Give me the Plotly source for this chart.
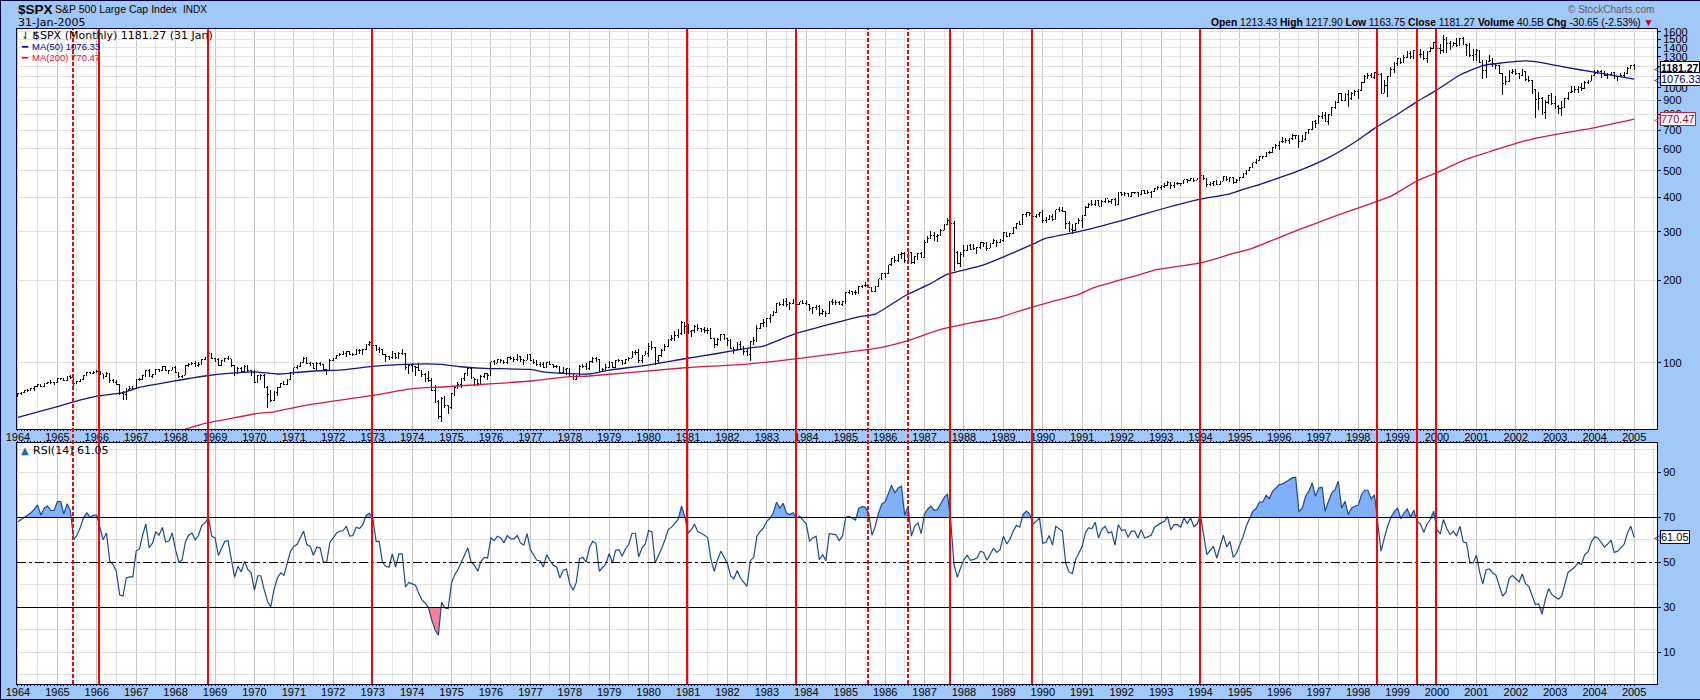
import math

import pandas as pd
import plotly.graph_objects as go

# monthly closes, one row per year, 1964 to Jan 2005
closes = [
    77.04, 77.80, 78.98, 79.46, 80.37, 81.69, 83.18, 81.83, 84.18, 84.86, 84.42, 84.75,
    87.56, 87.43, 86.16, 89.11, 88.42, 84.12, 85.25, 87.17, 89.96, 92.42, 91.61, 92.43,
    92.88, 91.22, 89.23, 91.06, 86.13, 84.74, 83.60, 77.10, 76.56, 80.20, 80.45, 80.33,
    86.61, 86.78, 90.20, 94.01, 89.08, 90.64, 94.75, 93.64, 96.71, 93.90, 94.00, 96.47,
    92.24, 89.36, 90.20, 97.59, 98.68, 99.58, 97.74, 98.86, 102.67, 103.41, 108.37, 103.86,
    103.01, 98.13, 101.51, 103.69, 103.46, 97.71, 91.83, 95.51, 93.12, 97.24, 93.81, 92.06,
    85.02, 89.50, 89.63, 81.52, 76.55, 72.72, 78.05, 81.52, 84.21, 83.25, 87.20, 92.15,
    95.88, 96.75, 100.31, 103.95, 99.63, 99.70, 95.58, 99.03, 98.34, 94.23, 93.99, 102.09,
    103.94, 106.57, 107.20, 107.67, 109.53, 107.14, 107.39, 111.09, 110.55, 111.58, 116.67, 118.05,
    116.03, 111.68, 111.52, 106.97, 104.95, 104.26, 108.22, 104.25, 108.43, 108.29, 95.96, 97.55,
    96.57, 96.22, 93.98, 90.31, 87.28, 86.00, 79.31, 72.15, 63.54, 73.90, 69.97, 68.56,
    76.98, 81.59, 83.36, 87.30, 91.15, 95.19, 88.75, 86.88, 83.87, 89.04, 91.24, 90.19,
    100.86, 99.71, 102.77, 101.64, 100.18, 104.28, 103.44, 102.91, 105.24, 102.90, 102.10, 107.46,
    102.03, 99.82, 98.42, 98.44, 96.12, 100.48, 98.85, 96.77, 96.53, 92.34, 94.83, 95.10,
    89.25, 87.04, 89.21, 96.83, 97.24, 95.53, 100.68, 103.29, 102.54, 93.15, 94.70, 96.11,
    99.93, 96.28, 101.59, 101.76, 99.08, 102.91, 103.81, 109.32, 109.32, 101.82, 106.16, 107.94,
    114.16, 113.66, 102.09, 106.29, 111.24, 114.24, 121.67, 122.38, 125.46, 127.47, 140.52, 135.76,
    129.55, 131.27, 136.00, 132.81, 132.59, 131.21, 130.92, 122.79, 116.18, 121.89, 126.35, 122.55,
    120.40, 113.11, 111.96, 116.44, 111.88, 109.61, 107.09, 119.51, 120.42, 133.71, 138.54, 140.64,
    145.30, 148.06, 152.96, 164.42, 162.39, 167.64, 162.56, 164.40, 166.07, 163.55, 166.40, 164.93,
    163.41, 157.06, 159.18, 160.05, 150.55, 153.18, 150.66, 166.68, 166.10, 166.09, 163.58, 167.24,
    179.63, 181.18, 180.66, 179.83, 189.55, 191.85, 190.92, 188.63, 182.08, 189.82, 202.17, 211.28,
    211.78, 226.92, 238.90, 235.52, 247.35, 250.84, 236.12, 252.93, 231.32, 243.98, 249.22, 242.17,
    274.08, 284.20, 291.70, 288.36, 290.10, 304.00, 318.66, 329.80, 321.83, 251.79, 230.30, 247.08,
    257.07, 267.82, 258.89, 261.33, 262.16, 273.50, 272.02, 261.52, 271.91, 278.97, 273.70, 277.72,
    297.47, 288.86, 294.87, 309.64, 320.52, 317.98, 346.08, 351.45, 349.15, 340.36, 345.99, 353.40,
    329.08, 331.89, 339.94, 330.80, 361.23, 358.02, 356.15, 322.56, 306.05, 304.00, 322.22, 330.22,
    343.93, 367.07, 375.22, 375.34, 389.83, 371.16, 387.81, 395.43, 387.86, 392.46, 375.22, 417.09,
    408.79, 412.70, 403.69, 414.95, 415.35, 408.14, 424.21, 414.03, 417.80, 418.68, 431.35, 435.71,
    438.78, 443.38, 451.67, 440.19, 450.19, 450.53, 448.13, 463.56, 458.93, 467.83, 461.79, 466.45,
    481.61, 467.14, 445.77, 450.91, 456.50, 444.27, 458.26, 475.49, 462.69, 472.35, 453.69, 459.27,
    470.42, 487.39, 500.71, 514.71, 533.40, 544.75, 562.06, 561.88, 584.41, 581.50, 605.37, 615.93,
    636.02, 640.43, 645.50, 654.17, 669.12, 670.63, 639.95, 651.99, 687.31, 705.27, 757.02, 740.74,
    786.16, 790.82, 757.12, 801.34, 848.28, 885.14, 954.31, 899.47, 947.28, 914.62, 955.40, 970.43,
    980.28, 1049.34, 1101.75, 1111.75, 1090.82, 1133.84, 1120.67, 957.28, 1017.01, 1098.67, 1163.63, 1229.23,
    1279.64, 1238.33, 1286.37, 1335.18, 1301.84, 1372.71, 1328.72, 1320.41, 1282.71, 1362.93, 1388.91, 1469.25,
    1394.46, 1366.42, 1498.58, 1452.43, 1420.60, 1454.60, 1430.83, 1517.68, 1436.51, 1429.40, 1314.95, 1320.28,
    1366.01, 1239.94, 1160.33, 1249.46, 1255.82, 1224.42, 1211.23, 1133.58, 1040.94, 1059.78, 1139.45, 1148.08,
    1130.20, 1106.73, 1147.39, 1076.92, 1067.14, 989.82, 911.62, 916.07, 815.28, 885.76, 936.31, 879.82,
    855.70, 841.15, 849.18, 916.92, 963.59, 974.50, 990.31, 1008.01, 995.97, 1050.71, 1058.20, 1111.92,
    1131.13, 1144.94, 1126.21, 1107.30, 1120.68, 1140.84, 1101.72, 1104.24, 1114.58, 1130.20, 1173.82, 1211.92,
    1181.27,
]
highs = [
    77.6, 78.2, 79.4, 80.0, 80.8, 82.0, 83.5, 83.4, 84.5, 85.2, 86.3, 85.2,
    88.0, 88.2, 87.9, 89.6, 90.3, 88.6, 85.9, 87.5, 90.2, 92.7, 92.7, 93.0,
    94.1, 93.3, 91.1, 92.4, 91.1, 87.4, 86.6, 84.0, 78.7, 81.0, 82.5, 82.6,
    87.0, 88.3, 90.6, 94.2, 95.0, 91.1, 95.1, 95.3, 97.6, 97.6, 94.5, 96.6,
    97.0, 92.6, 90.6, 98.0, 99.5, 100.7, 101.8, 100.7, 103.0, 105.0, 108.9, 108.9,
    104.0, 104.0, 101.8, 104.5, 106.2, 103.5, 98.1, 96.7, 96.5, 98.3, 98.3, 93.8,
    94.0, 90.0, 90.9, 90.9, 82.0, 79.8, 79.0, 81.9, 84.7, 85.9, 87.6, 92.2,
    96.0, 97.8, 100.6, 104.6, 104.6, 100.5, 100.0, 100.9, 100.9, 99.2, 94.7, 103.0,
    104.5, 106.9, 108.8, 110.4, 110.7, 110.7, 108.2, 112.3, 112.0, 112.5, 117.3, 119.8,
    120.2, 116.3, 114.0, 112.0, 107.6, 106.0, 110.0, 108.4, 109.0, 111.8, 108.3, 98.0,
    99.8, 97.0, 99.8, 94.0, 92.0, 93.0, 88.0, 82.8, 73.0, 74.9, 76.0, 70.0,
    77.8, 82.6, 84.9, 88.0, 92.0, 95.5, 96.5, 87.9, 86.6, 90.1, 92.0, 91.3,
    101.0, 102.0, 103.4, 103.6, 102.0, 105.3, 105.5, 105.0, 107.8, 105.5, 103.0, 107.8,
    107.5, 103.3, 102.5, 101.0, 100.4, 100.7, 101.6, 99.1, 98.1, 96.9, 96.8, 96.0,
    95.1, 90.9, 90.2, 97.8, 99.0, 99.7, 101.0, 105.0, 104.9, 103.5, 96.0, 98.6,
    101.8, 100.5, 102.3, 103.6, 102.3, 103.4, 104.7, 110.0, 110.9, 112.2, 107.0, 110.0,
    118.0, 120.2, 114.0, 107.0, 112.0, 117.0, 122.5, 126.0, 130.4, 133.0, 141.9, 141.0,
    138.1, 132.0, 137.6, 138.1, 134.0, 134.8, 133.9, 133.8, 123.0, 123.0, 127.3, 127.5,
    123.0, 122.0, 114.0, 119.3, 119.5, 114.6, 112.5, 120.0, 124.6, 137.0, 140.1, 143.7,
    146.0, 150.9, 153.7, 164.9, 167.0, 170.9, 172.7, 167.0, 170.4, 172.7, 167.0, 169.0,
    169.5, 164.0, 159.8, 162.0, 161.7, 156.6, 154.0, 167.5, 170.4, 169.0, 168.0, 168.0,
    180.3, 183.9, 183.0, 183.6, 190.8, 192.4, 197.0, 192.5, 189.0, 191.0, 202.2, 212.0,
    213.0, 226.9, 240.0, 244.0, 249.0, 252.0, 252.3, 254.0, 254.0, 245.0, 250.0, 254.0,
    280.0, 290.0, 301.0, 300.0, 294.0, 306.0, 321.0, 337.0, 329.0, 329.0, 255.0, 252.0,
    268.0, 269.0, 271.0, 270.0, 264.0, 275.0, 276.0, 274.0, 272.0, 283.0, 280.0, 281.0,
    298.0, 300.0, 297.0, 311.0, 323.0, 328.0, 347.0, 354.0, 352.0, 360.0, 347.0, 354.0,
    360.0, 338.0, 344.0, 347.0, 361.0, 368.0, 369.0, 357.0, 327.0, 320.0, 323.0, 335.0,
    345.0, 371.0, 383.0, 391.0, 392.0, 391.0, 392.0, 396.0, 392.0, 394.0, 398.0, 418.0,
    420.0, 418.0, 416.0, 417.0, 419.0, 417.0, 425.0, 425.0, 425.0, 420.0, 432.0, 438.0,
    443.0, 450.0, 457.0, 452.0, 455.0, 454.0, 451.0, 464.0, 465.0, 471.0, 469.0, 471.0,
    482.0, 483.0, 468.0, 454.0, 460.0, 463.0, 459.0, 477.0, 476.0, 476.0, 474.0, 466.0,
    474.0, 488.0, 503.0, 516.0, 534.0, 552.0, 565.0, 565.0, 586.0, 590.0, 608.0, 625.0,
    637.0, 664.0, 658.0, 660.0, 680.0, 674.0, 677.0, 672.0, 691.0, 711.0, 758.0, 762.0,
    795.0, 818.0, 815.0, 802.0, 851.0, 898.0, 957.0, 960.0, 960.0, 983.0, 964.0, 987.0,
    992.0, 1050.0, 1113.0, 1131.0, 1130.0, 1139.0, 1191.0, 1135.0, 1067.0, 1103.0, 1193.0, 1244.0,
    1286.0, 1282.0, 1316.0, 1363.0, 1368.0, 1372.0, 1420.0, 1382.0, 1362.0, 1367.0, 1406.0, 1473.0,
    1478.0, 1445.0, 1553.0, 1528.0, 1481.0, 1475.0, 1518.0, 1526.0, 1531.0, 1437.0, 1452.0, 1390.0,
    1384.0, 1377.0, 1268.0, 1269.0, 1316.0, 1287.0, 1234.0, 1214.0, 1134.0, 1110.0, 1163.0, 1173.0,
    1176.0, 1130.0, 1173.0, 1147.0, 1107.0, 1068.0, 994.0, 965.0, 925.0, 901.0, 941.0, 955.0,
    935.0, 864.0, 895.0, 920.0, 965.0, 1016.0, 1016.0, 1018.0, 1040.0, 1062.0, 1070.0, 1112.0,
    1158.0, 1159.0, 1164.0, 1150.0, 1131.0, 1147.0, 1141.0, 1109.0, 1132.0, 1142.0, 1188.0, 1217.0,
    1217.90,
]
lows = [
    75.0, 76.5, 77.6, 78.4, 79.0, 78.7, 81.3, 81.3, 81.5, 84.0, 84.0, 83.2,
    84.3, 86.7, 85.8, 85.9, 87.3, 81.6, 83.6, 84.8, 86.9, 89.9, 90.7, 90.9,
    91.9, 90.4, 87.3, 88.8, 84.6, 84.2, 83.1, 76.3, 73.2, 73.2, 79.2, 79.5,
    80.3, 85.6, 86.5, 88.8, 88.9, 87.7, 90.4, 92.7, 93.2, 93.0, 90.9, 93.9,
    91.5, 88.1, 87.7, 90.0, 96.6, 98.0, 96.8, 96.5, 98.9, 102.2, 102.7, 103.4,
    100.4, 97.2, 97.5, 100.7, 102.0, 96.2, 89.5, 91.3, 92.5, 92.4, 92.9, 89.2,
    84.8, 85.0, 86.2, 80.6, 68.6, 72.2, 72.5, 76.0, 81.0, 82.7, 82.7, 87.0,
    90.6, 95.0, 96.2, 100.0, 98.8, 97.3, 94.8, 93.5, 97.6, 93.5, 90.2, 93.8,
    101.7, 103.0, 106.0, 106.7, 104.7, 106.5, 105.9, 106.7, 108.0, 106.8, 111.6, 115.0,
    115.0, 110.5, 108.9, 106.4, 101.0, 102.0, 103.5, 103.0, 103.3, 106.9, 94.0, 90.8,
    92.6, 89.5, 93.0, 89.0, 85.0, 85.2, 78.6, 71.6, 62.3, 61.0, 68.7, 65.2,
    68.0, 76.0, 80.5, 81.0, 85.9, 89.6, 87.5, 82.2, 82.0, 82.9, 87.9, 86.8,
    90.5, 98.2, 99.6, 100.0, 98.6, 99.0, 102.5, 100.7, 101.8, 100.8, 98.5, 102.0,
    101.6, 99.0, 97.5, 96.9, 95.5, 95.5, 98.2, 95.7, 95.8, 91.5, 91.3, 90.0,
    88.5, 86.9, 86.4, 88.5, 95.9, 94.5, 94.4, 100.1, 100.7, 92.4, 92.2, 93.0,
    96.0, 95.4, 96.1, 100.4, 98.4, 98.8, 101.4, 103.8, 106.8, 100.0, 100.0, 106.7,
    105.2, 111.0, 98.2, 99.9, 105.0, 110.5, 113.9, 119.8, 120.0, 123.2, 125.9, 127.4,
    127.7, 124.5, 128.6, 131.0, 129.6, 128.3, 127.1, 122.3, 112.8, 114.7, 119.7, 121.0,
    114.7, 112.0, 107.3, 111.3, 111.5, 106.6, 106.0, 101.4, 116.4, 119.3, 132.9, 135.0,
    134.5, 139.0, 148.0, 152.0, 160.8, 161.0, 160.0, 156.0, 163.0, 162.0, 161.8, 163.0,
    162.7, 154.0, 151.0, 156.0, 148.5, 148.8, 147.3, 150.0, 162.6, 162.0, 162.0, 160.8,
    163.7, 178.6, 176.0, 177.0, 178.0, 187.3, 188.0, 187.0, 180.2, 181.3, 189.8, 200.0,
    203.5, 211.0, 224.4, 230.0, 233.0, 239.0, 230.0, 235.0, 228.0, 229.0, 236.0, 240.0,
    242.0, 273.0, 283.0, 278.0, 276.0, 289.0, 304.0, 317.0, 307.0, 216.0, 230.0, 224.0,
    243.0, 256.0, 258.0, 258.0, 249.0, 260.0, 263.0, 256.0, 261.0, 271.0, 264.0, 272.0,
    275.0, 286.0, 286.0, 293.0, 308.0, 316.0, 316.0, 340.0, 343.0, 328.0, 336.0, 340.0,
    322.0, 322.0, 330.0, 329.0, 330.0, 354.0, 353.0, 307.0, 300.0, 295.0, 303.0, 322.0,
    309.0, 343.0, 365.0, 371.0, 373.0, 371.0, 370.0, 380.0, 383.0, 378.0, 372.0, 374.0,
    404.0, 406.0, 401.0, 401.0, 411.0, 401.0, 407.0, 413.0, 413.0, 397.0, 418.0, 425.0,
    425.0, 431.0, 440.0, 429.0, 434.0, 445.0, 441.0, 447.0, 450.0, 457.0, 454.0, 462.0,
    464.0, 464.0, 436.0, 438.0, 441.0, 442.0, 444.0, 457.0, 460.0, 454.0, 448.0, 450.0,
    457.0, 469.0, 484.0, 500.0, 512.0, 530.0, 544.0, 553.0, 559.0, 576.0, 579.0, 602.0,
    597.0, 630.0, 628.0, 625.0, 645.0, 654.0, 605.0, 637.0, 646.0, 681.0, 702.0, 715.0,
    737.0, 770.0, 757.0, 733.0, 793.0, 838.0, 882.0, 898.0, 898.0, 855.0, 902.0, 932.0,
    912.0, 980.0, 1048.0, 1075.0, 1084.0, 1074.0, 1114.0, 957.0, 957.0, 924.0, 1094.0, 1131.0,
    1206.0, 1224.0, 1230.0, 1282.0, 1278.0, 1277.0, 1327.0, 1281.0, 1268.0, 1233.0, 1348.0, 1387.0,
    1361.0, 1325.0, 1346.0, 1339.0, 1373.0, 1420.0, 1408.0, 1430.0, 1435.0, 1305.0, 1294.0, 1255.0,
    1255.0, 1229.0, 1081.0, 1091.0, 1240.0, 1191.0, 1168.0, 1127.0, 944.0, 1026.0, 1054.0, 1124.0,
    1117.0, 1074.0, 1106.0, 1063.0, 1048.0, 952.0, 775.0, 833.0, 800.0, 768.0, 872.0, 869.0,
    841.0, 806.0, 789.0, 848.0, 903.0, 960.0, 962.0, 960.0, 972.0, 996.0, 1035.0, 1061.0,
    1108.0, 1125.0, 1087.0, 1107.0, 1076.0, 1113.0, 1078.0, 1060.0, 1099.0, 1090.0, 1127.0, 1174.0,
    1163.75,
]
rsi = [
    68, 69, 70, 71, 72, 73.5, 75.5, 71, 74, 75, 73, 73,
    77, 77, 71.5, 76, 73, 60, 62, 65.5, 70, 72, 70, 71,
    71, 65, 60, 63, 50.5, 49, 46, 35.5, 35, 43, 43.5, 43.5,
    55, 56, 62, 67, 56.5, 58.5, 63.5, 62, 65.5, 59, 59.5, 63,
    55.5, 50, 51, 59, 62, 63, 60, 62, 66.5, 67.5, 70, 61.6,
    60.8, 53, 56.4, 59.3, 59.6, 50.4, 43.3, 48.2, 45.7, 50.4, 46.7, 45.3,
    37.6, 44, 44, 37.8, 32.7, 30.2, 37.8, 43, 45.3, 44.2, 49.7, 54.9,
    57, 58, 60.8, 63.8, 57.9, 57.1, 53.1, 56.7, 56.4, 50.1, 50.1, 58.9,
    60.8, 63, 63.8, 64, 66, 61.6, 61.9, 65.6, 65, 66.7, 70.9, 71.8,
    69.7, 59.3, 59.3, 50.1, 48.2, 47.8, 53.7, 47.8, 53.7, 53.7, 39, 41,
    40.4, 39.8, 36.4, 33.4, 31.9, 30, 24.5, 20, 17.6, 32.2, 29.7, 29.4,
    40.8, 44.5, 46.7, 50.1, 53.4, 56.4, 50.1, 48.7, 46, 50.4, 52.2, 51.9,
    60.8, 59.6, 61.6, 60.8, 58.6, 61.9, 60.5, 60.4, 61.9, 58.6, 57.6, 62.7,
    55.6, 53.1, 50.9, 50.7, 47.9, 53.4, 50.7, 48.7, 47.9, 43, 46.4, 47,
    40.4, 37.6, 40.8, 51.6, 52.2, 50.1, 56.4, 59.3, 58.4, 46, 47.5, 49.3,
    53.9, 49.7, 55.3, 55.6, 52.7, 56, 57.9, 62.9, 62.9, 52.4, 56.4, 58.1,
    64.1, 63.5, 49.7, 52.7, 56.1, 60, 64.5, 65.6, 67.5, 69, 74.9, 70.4,
    63, 64.5, 67, 63.5, 63, 62, 61.1, 51.2, 46, 51.2, 54.9, 52.2,
    49.3, 43.8, 42.6, 46.3, 43, 41.1, 39.3, 50.7, 52.2, 61.6, 63.8, 65.3,
    68.2, 69.7, 71.9, 76.7, 74.1, 76.2, 71.9, 71.2, 72, 69.7, 70.4, 68.7,
    67, 59.3, 60.8, 61.6, 51.2, 53.4, 50.7, 62.7, 62.6, 62.3, 59.6, 61.6,
    70, 70.4, 69.7, 68.8, 73.9, 74.7, 74.4, 71.9, 62, 66, 71.9, 75.9,
    76.8, 80.8, 84.2, 80.8, 83, 83.8, 70.9, 74.9, 61.6, 66, 67.5, 62.7,
    71.5, 73.7, 74.9, 73.1, 73.4, 76.1, 78.6, 80.4, 68, 49, 43.3, 47.5,
    51.2, 53.1, 50.9, 51.3, 51.9, 54.9, 54.4, 50.9, 53.4, 56.2, 54.4, 55.6,
    61.6, 58.1, 60.1, 63.8, 66.4, 65.6, 71.2, 72.7, 71.5, 67, 68.2, 69.7,
    58.4, 59, 61.9, 57.6, 66, 65, 63.8, 49.7, 45.7, 45, 51.2, 54.1,
    57.1, 63.3, 65.3, 65, 67.8, 60.8, 64.5, 66, 63, 63.5, 57.6, 66.7,
    64.1, 64.5, 61.1, 63.8, 63.8, 60.8, 64.5, 60.8, 61.6, 62, 65.6, 66.7,
    67.5, 68.2, 70.3, 64.4, 66.7, 66.7, 65.6, 69.7, 67.2, 69.7, 65.9, 67,
    70.9, 61.6, 53.4, 55.3, 57.1, 51.9, 56.7, 62, 56.8, 59.3, 52.2, 54.1,
    57.9, 61.6, 66, 69.7, 72.7, 73.9, 76.7, 76.8, 79.8, 78.3, 81.6, 83,
    84.5, 84.8, 85.7, 86.3, 87.5, 87.8, 72.4, 74.1, 79.3, 81.6, 85.3, 79.3,
    83, 83.3, 72.7, 77.1, 80.8, 82.3, 86, 74.1, 77.1, 71.2, 74.1, 74.9,
    75.3, 80, 82, 82, 78.1, 80, 68.2, 54.9, 60.8, 66, 70.1, 72.4,
    74.1, 69.3, 71.9, 73.7, 70.1, 73.1, 68.2, 67, 63.3, 67, 69, 72.7,
    64.5, 62.6, 69, 65, 62.3, 63.8, 61.6, 66, 59, 58.6, 49.7, 49.7,
    53.1, 45.3, 40.4, 46.7, 47, 45.3, 44.2, 39.3, 34.9, 36.7, 43, 44.1,
    42.6, 41.3, 44.8, 40.5, 39.3, 34.9, 31.2, 31.5, 27, 33.4, 38.3, 35.6,
    34.6, 33.6, 34.9, 40.8, 45.6, 46.7, 47.9, 49.7, 49, 53.4, 54.6, 58.9,
    61.3, 60.8, 58.9, 56.7, 58.1, 59.8, 54.4, 54.9, 56.4, 58.1, 63, 66,
    61.05,
]

ma50_dates = [
    "1964-01", "1965-01", "1965-06", "1966-01", "1966-09", "1967-02", "1968-01", "1968-10",
    "1969-05", "1970-01", "1970-08", "1971-01", "1971-08", "1972-03", "1973-01", "1973-11",
    "1974-10", "1975-04", "1975-11", "1977-01", "1977-05", "1977-11", "1978-07", "1979-01",
    "1980-01", "1980-12", "1981-09", "1982-07", "1982-12", "1983-06", "1983-11", "1985-05",
    "1985-10", "1986-07", "1987-03", "1987-08", "1988-06", "1988-12", "1989-10", "1990-02",
    "1990-12", "1992-01", "1993-02", "1994-01", "1994-10", "1995-04", "1995-06", "1996-07",
    "1997-04", "1998-01", "1998-06", "1999-01", "1999-07", "2000-01", "2000-08", "2001-03",
    "2001-08", "2002-04", "2002-10", "2003-04", "2003-12", "2004-07", "2005-01",
]
ma50_values = [
    63.3, 69.2, 72.1, 75.6, 77.8, 81.4, 86, 89.5,
    91.5, 92.7, 91, 92, 93.5, 94, 97, 98.7,
    98.7, 96.7, 95.4, 94.6, 92.7, 91.5, 91, 94,
    98.1, 103.4, 107.6, 112.8, 115, 122.7, 129, 147,
    150.4, 175, 194.5, 210, 225, 240, 270, 284,
    300, 329, 365, 394, 412, 435, 441, 500,
    558, 647, 713, 802, 892, 984, 1115, 1206,
    1230, 1254, 1230, 1190, 1146, 1109, 1076.33,
]
ma200_dates = [
    "1968-04", "1968-10", "1969-06", "1970-02", "1970-07", "1971-05", "1972-12", "1974-01",
    "1974-10", "1976-03", "1977-02", "1977-12", "1978-07", "1980-12", "1982-07", "1983-11",
    "1985-05", "1985-12", "1986-07", "1987-06", "1988-04", "1988-12", "1989-06", "1990-03",
    "1990-12", "1991-04", "1992-06", "1992-11", "1994-01", "1994-11", "1995-04", "1996-07",
    "1997-07", "1998-11", "1999-07", "2000-01", "2000-10", "2001-05", "2002-02", "2002-06",
    "2003-03", "2003-12", "2005-01",
]
ma200_values = [
    57.4, 60.2, 62.8, 65.4, 66.3, 70.1, 75.7, 80.5,
    81.6, 84.1, 86, 88.9, 89.5, 95.9, 98.9, 103.8,
    110.6, 113.8, 119.3, 132.3, 140.3, 146.3, 154.6, 166,
    177.4, 186.6, 208.6, 217.5, 231, 250, 259, 305,
    345, 404, 459, 492, 551, 586, 634, 652,
    684, 713, 770.47,
]

# hand drawn red markers on the original
solid_marks = [
    "1966-01-21", "1968-10-27", "1972-12-25", "1980-12-22", "1983-09-27", "1987-08-22",
    "1989-09-22", "1993-12-25", "1998-06-22", "1999-06-28", "1999-12-22",
]
dashed_marks = ["1965-05-24", "1985-07-25", "1986-07-28"]

price_ticks = [100, 200, 300, 400, 500, 600, 700, 800, 900, 1000, 1100, 1200, 1300, 1400, 1500, 1600]
hidden_price_labels = [1100, 1200]  # sit under the value boxes in the original
rsi_ticks = [10, 30, 50, 70, 90]
rsi_minor = [0, 20, 40, 60, 80, 100]

NAVY = "#00003A"
BAND = "#A2C8F8"
FONT = "Liberation Sans"
WEB = "DejaVu Sans"
W, H = 1700, 700


def clip_fill(when, values, level, above):
    # series clipped at a level, with the crossings added so the shade meets the line
    xs, ys = [], []
    stamps = [t.value for t in when]
    for i, v in enumerate(values):
        if i and (values[i - 1] - level) * (v - level) < 0:
            frac = (level - values[i - 1]) / (v - values[i - 1])
            xs.append(pd.Timestamp(stamps[i - 1] + frac * (stamps[i] - stamps[i - 1])))
            ys.append(level)
        xs.append(when[i])
        ys.append(max(v, level) if above else min(v, level))
    return xs, ys


dates = pd.date_range("1964-01-01", periods=len(closes), freq="MS")
opens = [75.43] + closes[:-1]
x_range = ["1963-12-19", "2005-08-01"]
years = [d for d in dates if d.month == 1]
julys = [d for d in dates if d.month == 7] + [pd.Timestamp("2005-07-01")]

fig = go.Figure()
fig.add_trace(go.Ohlc(
    x=dates, open=opens, high=highs, low=lows, close=closes, tickwidth=0.4,
    increasing_line=dict(color="black", width=1),
    decreasing_line=dict(color="black", width=1),
    xaxis="x", yaxis="y", hoverinfo="skip",
))
fig.add_trace(go.Scatter(x=ma50_dates, y=ma50_values, mode="lines",
                         line=dict(color="#14148C", width=1.3, shape="spline", smoothing=0.5),
                         xaxis="x", yaxis="y", hoverinfo="skip"))
fig.add_trace(go.Scatter(x=ma200_dates, y=ma200_values, mode="lines",
                         line=dict(color="#D81840", width=1.3, shape="spline", smoothing=0.5),
                         xaxis="x", yaxis="y", hoverinfo="skip"))

# rsi shading above 70 and below 30
for level, above, shade in [(70, True, "#80B0F8"), (30, False, "#F8809A")]:
    xs, ys = clip_fill(dates, rsi, level, above)
    fig.add_trace(go.Scatter(x=xs, y=[level] * len(xs), mode="lines", line=dict(width=0),
                             xaxis="x2", yaxis="y2", hoverinfo="skip"))
    fig.add_trace(go.Scatter(x=xs, y=ys, mode="none", fill="tonexty", fillcolor=shade,
                             xaxis="x2", yaxis="y2", hoverinfo="skip"))
fig.add_trace(go.Scatter(x=dates, y=rsi, mode="lines", line=dict(color="#1E4A8C", width=1.2),
                         xaxis="x2", yaxis="y2", hoverinfo="skip"))

# carriers for the overlaid month tick axes
fig.add_trace(go.Scatter(x=dates, y=closes, mode="none", xaxis="x3", yaxis="y", hoverinfo="skip"))
fig.add_trace(go.Scatter(x=dates, y=rsi, mode="none", xaxis="x4", yaxis="y2", hoverinfo="skip"))

x_dom = [16.5 / W, 1657 / W]
x_common = dict(
    type="date", range=x_range, domain=x_dom, tickmode="array", tickvals=years, automargin=False,
    ticktext=[str(d.year) for d in years], ticks="", showline=True, linecolor=NAVY, linewidth=1,
    mirror=True, showgrid=True, gridcolor="#C6C6C6", gridwidth=1, zeroline=False,
    tickfont=dict(family=FONT, size=11, color="black"), tickangle=0, ticklabelstandoff=-2,
    minor=dict(tickmode="array", tickvals=julys, showgrid=True, gridcolor="#E6E6E6", gridwidth=1, ticks=""),
    rangeslider=dict(visible=False),
)
month_axis = dict(type="date", range=x_range, domain=x_dom, tickmode="array", tickvals=list(dates),
                  automargin=False, showticklabels=False, ticks="outside", ticklen=1, tickcolor=NAVY,
                  tickwidth=1, showgrid=False, zeroline=False)

y_common = dict(side="right", showline=True, linecolor=NAVY, linewidth=1, mirror=True, zeroline=False,
                automargin=False, ticks="outside", ticklen=3, tickcolor=NAVY, gridwidth=1, gridcolor="#E2E2E2",
                tickfont=dict(family=FONT, size=11, color="black"), tickmode="array")

shapes = []
for level, dash in [(70, "solid"), (30, "solid"), (50, "dashdot")]:
    shapes.append(dict(type="line", xref="paper", x0=x_dom[0], x1=x_dom[1], yref="y2", y0=level, y1=level,
                       line=dict(color="black", width=1, dash=dash)))
plot_top, plot_bottom = 1 - 28.5 / H, 1 - 684 / H
for mark in solid_marks:
    shapes.append(dict(type="line", x0=mark, x1=mark, yref="paper", y0=plot_bottom, y1=plot_top,
                       line=dict(color="#FF0000", width=2)))
for mark in dashed_marks:
    shapes.append(dict(type="line", x0=mark, x1=mark, yref="paper", y0=plot_bottom, y1=plot_top,
                       line=dict(color="#FF0000", width=2, dash="4px,2px")))
# frame of the whole picture
for x0, y0, x1, y1 in [(0, 1, 1, 1), (0, 0, 0, 1), (0, 0, 1, 0)]:
    shapes.append(dict(type="line", xref="paper", yref="paper", x0=x0, y0=y0, x1=x1, y1=y1,
                       line=dict(color=NAVY, width=2)))


def px_text(x, y, text, size=11, family=FONT, color="black", anchor="left", **kw):
    return dict(xref="paper", yref="paper", x=x / W, y=1 - y / H, text=text, showarrow=False,
                xanchor=anchor, yanchor="middle", align=anchor,
                font=dict(family=family, size=size, color=color), **kw)


def value_box(value, text, yref, color, border, size=11, bold=False):
    y = math.log10(value) if yref == "y" else value
    label = "<b>%s</b>" % text if bold else text
    return [
        dict(xref="paper", yref=yref, x=1652 / W, y=y, text="◁", showarrow=False, xanchor="left",
             yanchor="middle", font=dict(family=WEB, size=10, color=border)),
        dict(xref="paper", yref=yref, x=1659.5 / W, y=y, text=label, showarrow=False, xanchor="left",
             yanchor="middle", bgcolor="white", bordercolor=border, borderwidth=1, borderpad=0,
             font=dict(family=FONT, size=size, color=color)),
    ]


quote = ("<b>Open</b> 1213.43 <b>High</b> 1217.90 <b>Low</b> 1163.75 <b>Close</b> 1181.27 "
         "<b>Volume</b> 40.5B <b>Chg</b> -30.65 (-2.53%) <span style='color:#C00030'>▼</span>")
annotations = [
    px_text(16, 9, "<b>$SPX</b>", size=13.5),
    px_text(53, 9, "S&P 500 Large Cap Index", size=10.5),
    px_text(181, 9, "INDX", size=10),
    px_text(16, 22, "31-Jan-2005", size=11, family=WEB),
    px_text(1656, 22, quote, size=10.25, anchor="right"),
    px_text(1656, 9, "© StockCharts.com", size=10, color="#606060", anchor="right"),
    px_text(19, 36, "⇃↾", size=10, family=WEB),
    px_text(31, 36, "$SPX (Monthly) 1181.27 (31 Jan)", size=11, family=WEB),
    px_text(19, 46.5, "━", size=10, family=WEB, color="#00008B"),
    px_text(30, 46.5, "MA(50) 1076.33", size=9.5, color="#00008B"),
    px_text(19, 57.5, "━", size=10, family=WEB, color="#D81840"),
    px_text(30, 57.5, "MA(200) 770.47", size=9.5, color="#D81840"),
    px_text(19, 450.5, "▲", size=10, family=WEB, color="#3060B0"),
    px_text(31, 450.5, "RSI(14) 61.05", size=11, family=WEB),
]
annotations += value_box(1181.27, "1181.27", "y", "black", "black", size=10.5, bold=True)
annotations += value_box(1076.33, "1076.33", "y", "#00005A", "#00005A")
annotations += value_box(770.47, "770.47", "y", "#A00020", "#D81840")
annotations += value_box(61.05, "61.05", "y2", "black", "#00005A")

fig.update_layout(
    width=W, height=H, margin=dict(l=0, r=0, t=0, b=0, pad=0), autosize=False,
    paper_bgcolor=BAND, plot_bgcolor="white", showlegend=False,
    xaxis=dict(x_common, anchor="y"),
    xaxis2=dict(x_common, anchor="y2"),
    xaxis3=dict(month_axis, anchor="y", overlaying="x"),
    xaxis4=dict(month_axis, anchor="y2", overlaying="x2", mirror="ticks"),
    yaxis=dict(y_common, type="log", domain=[1 - 429 / H, 1 - 28.5 / H],
               range=[math.log10(57.4), math.log10(1646)], anchor="x",
               tickvals=price_ticks,
               ticktext=["" if t in hidden_price_labels else str(t) for t in price_ticks]),
    yaxis2=dict(y_common, domain=[1 - 684 / H, 1 - 443 / H], range=[-4.1, 103], anchor="x2",
                tickvals=rsi_ticks, ticktext=[str(t) for t in rsi_ticks],
                minor=dict(tickmode="array", tickvals=rsi_minor, showgrid=True, gridcolor="#E2E2E2", ticks="")),
    shapes=shapes,
    annotations=annotations,
)

crisp = """document.body.style.margin='0';
setTimeout(function () {
  document.querySelectorAll('.ohlc path, .shapelayer path').forEach(function (p) {
    p.style.shapeRendering = 'crispEdges';
  });
}, 50);"""
fig.write_html("out.html", post_script=crisp, config=dict(displayModeBar=False))
